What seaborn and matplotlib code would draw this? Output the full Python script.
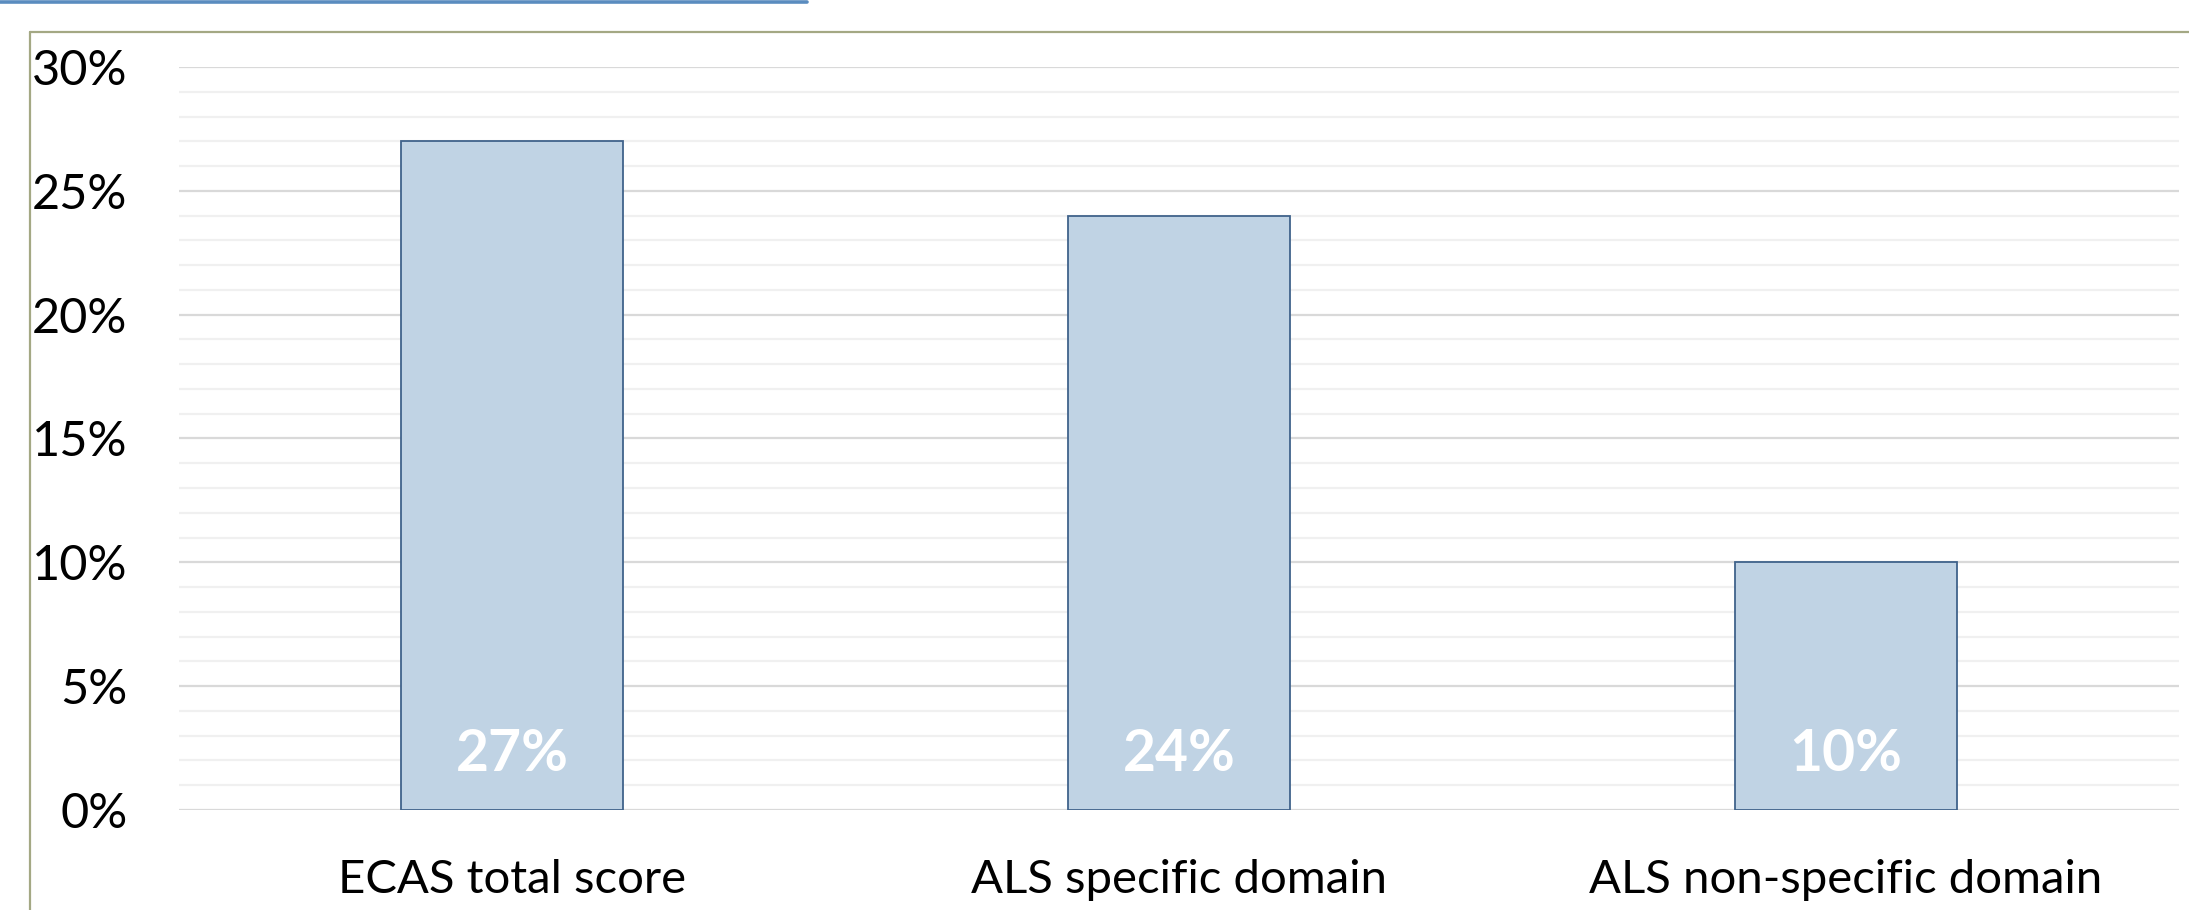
import matplotlib
matplotlib.use("Agg")
import matplotlib.pyplot as plt
from matplotlib.lines import Line2D
from matplotlib.ticker import PercentFormatter, MultipleLocator
import seaborn as sns
import pandas as pd

categories = ["ECAS total score", "ALS specific domain", "ALS non-specific domain"]
values = [0.27, 0.24, 0.10]
bar_labels = ["27%", "24%", "10%"]

sns.set_style("white")
plt.rcParams["font.family"] = ["Lato", "DejaVu Sans"]

W, H = 2189, 910
fig = plt.figure(figsize=(W / 100, H / 100), dpi=100)
ax = fig.add_axes([179 / W, 1 - 810 / H, (2179 - 179) / W, (810 - 67) / H])

df = pd.DataFrame({"cat": categories, "val": values})
sns.barplot(data=df, x="cat", y="val", ax=ax, width=0.333, color="#C0D3E4",
            saturation=1, edgecolor="#40638B", linewidth=1.3, zorder=3)

ax.set_ylim(0, 0.30)
ax.set_xlim(-0.5, 2.5)
ax.yaxis.set_major_locator(MultipleLocator(0.05))
ax.yaxis.set_minor_locator(MultipleLocator(0.01))
ax.yaxis.set_major_formatter(PercentFormatter(1, decimals=0))
ax.grid(True, which="major", axis="y", color="#D9D9D9", lw=1.6, zorder=1)
ax.grid(True, which="minor", axis="y", color="#F0F0F0", lw=1.6, zorder=0)
ax.grid(False, axis="x")
ax.set_axisbelow(True)
for s in ax.spines.values():
    s.set_visible(False)
ax.tick_params(axis="y", which="both", length=0, pad=37, labelsize=35, labelcolor="black")
ax.tick_params(axis="x", length=0, pad=35, labelsize=34, labelcolor="black")
ax.set_xlabel("")
ax.set_ylabel("")

for i, lab in enumerate(bar_labels):
    ax.annotate(lab, xy=(i, 0), xytext=(0, 40), textcoords="offset points",
                ha="center", va="center", color="white", fontsize=41,
                fontweight="bold", zorder=5)

# outer olive frame (partially cut)
fc = "#A4A884"
fig.add_artist(Line2D([30 / W, 30 / W], [0, 1 - 32 / H], transform=fig.transFigure,
                      color=fc, lw=1.6))
fig.add_artist(Line2D([30 / W, 1], [1 - 32 / H, 1 - 32 / H], transform=fig.transFigure,
                      color=fc, lw=1.6))
# blue top line
fig.add_artist(Line2D([0, 807 / W], [1 - 1.5 / H, 1 - 1.5 / H], transform=fig.transFigure,
                      color="#5A8CBF", lw=2.6))

fig.savefig("out.png", dpi=100, facecolor="white")
